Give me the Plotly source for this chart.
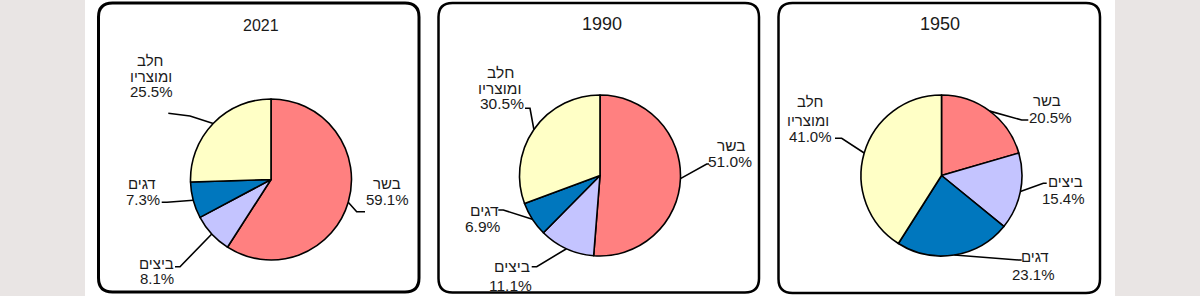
import math
import plotly.graph_objects as go

# ---------------- data ----------------
years = ["2021", "1990", "1950"]
categories = ["בשר", "ביצים", "דגים", "חלב ומוצריו"]
category_lines = [["בשר"], ["ביצים"], ["דגים"], ["חלב", "ומוצריו"]]
share_2021 = [59.1, 8.1, 7.3, 25.5]
share_1990 = [51.0, 11.1, 6.9, 30.5]
share_1950 = [20.5, 15.4, 23.1, 41.0]
colors = ["#FF8080", "#C4C4FF", "#0077BE", "#FFFFC6"]

# ---------------- layout settings (pixels) ----------------
W, H = 1200, 296
R = 80.5
FONT = "Liberation Sans, Arimo, Arial, DejaVu Sans, sans-serif"
TXT = "#1a1a1a"

panels = [
    dict(share=share_2021, center=(271, 179.5), box=(98.5, 3.0, 419.0, 292.0), bw=3.0,
         title=(260.5, 26), tsize=16, fsize=15,
         labels=[
             dict(elbow=(85.7, 32.2), end=(94, 32.2), text=[(116.3, 3.8), (116.3, 19.8)]),
             dict(elbow=(-91, 87.2), end=(-96, 87.2), text=[(-114.3, 84.0), (-114.3, 99.0)]),
             dict(elbow=(-104, 22.8), end=(-109.3, 22.8), text=[(-129.3, 3.8), (-127.7, 19.5)]),
             dict(elbow=(-81, -63.5), end=(-102.7, -66.2), text=[(-121, -119.5), (-120.5, -103.0), (-119.5, -87.5)]),
         ]),
    dict(share=share_1990, center=(600, 175.5), box=(438.5, 3.0, 759.0, 292.5), bw=2.5,
         title=(601.7, 24), tsize=18, fsize=15.5,
         labels=[
             dict(elbow=(106.7, -11.5), end=(109, -11.5), text=[(131.7, -30.5), (130, -13.8)]),
             dict(elbow=(-63.3, 91.2), end=(-68.3, 91.2), text=[(-88.3, 91.2), (-90, 109.5)]),
             dict(elbow=(-96.7, 34.5), end=(-101.7, 34.5), text=[(-116, 34.5), (-116.7, 51.2)]),
             dict(elbow=(-70, -67.2), end=(-75, -67.2), text=[(-100, -103.0), (-101, -87.5), (-98.3, -71.5)]),
         ]),
    dict(share=share_1950, center=(941.5, 175.5), box=(778.5, 3.0, 1100.0, 293.0), bw=2.5,
         title=(940, 24), tsize=18, fsize=15,
         labels=[
             dict(elbow=(80.2, -55.5), end=(86.8, -55.5), text=[(105.2, -75.5), (108.5, -58.2)]),
             dict(elbow=(101.8, 7.8), end=(105.2, 7.8), text=[(123.5, 6.2), (121.8, 22.8)]),
             dict(elbow=(76.8, 84.5), end=(80.2, 84.5), text=[(93.5, 81.2), (91.8, 98.5)]),
             dict(elbow=(-99.8, -37.2), end=(-106.5, -37.2), text=[(-131.5, -73.8), (-133.2, -55.5), (-131.5, -38.8)]),
         ]),
]


def px(x):
    return x / W


def py(y):
    return 1 - y / H


fig = go.Figure()
shapes = []
annotations = []

# grey page edges
for x0, x1 in [(0, 85), (1115, 1200)]:
    shapes.append(dict(type="rect", xref="paper", yref="paper", x0=px(x0), x1=px(x1),
                       y0=0, y1=1, fillcolor="#E9E5E4", line=dict(width=0), layer="below"))

for year, p in zip(years, panels):
    cx, cy = p["center"]
    vals = p["share"]
    fig.add_trace(go.Pie(
        values=vals, labels=categories, sort=False, direction="clockwise", rotation=0,
        marker=dict(colors=colors, line=dict(color="#000000", width=1.6)),
        textinfo="none", hoverinfo="label+percent", showlegend=False,
        domain=dict(x=[px(cx - R), px(cx + R)], y=[py(cy + R), py(cy - R)]),
    ))

    # rounded border
    x0, y0, x1, y1 = p["box"]
    rc = 14
    path = (f"M {px(x0 + rc)},{py(y0)} L {px(x1 - rc)},{py(y0)} "
            f"Q {px(x1)},{py(y0)} {px(x1)},{py(y0 + rc)} "
            f"L {px(x1)},{py(y1 - rc)} Q {px(x1)},{py(y1)} {px(x1 - rc)},{py(y1)} "
            f"L {px(x0 + rc)},{py(y1)} Q {px(x0)},{py(y1)} {px(x0)},{py(y1 - rc)} "
            f"L {px(x0)},{py(y0 + rc)} Q {px(x0)},{py(y0)} {px(x0 + rc)},{py(y0)} Z")
    shapes.append(dict(type="path", xref="paper", yref="paper", path=path,
                       line=dict(color="#000000", width=p["bw"]), layer="below"))

    # title
    tx, ty = p["title"]
    annotations.append(dict(x=px(tx), y=py(ty), xref="paper", yref="paper", text=year,
                            showarrow=False, xanchor="center", yanchor="middle",
                            font=dict(family=FONT, size=p["tsize"], color=TXT)))

    # labels and leader lines
    total = sum(vals)
    cum = 0.0
    for i, v in enumerate(vals):
        mid = (cum + v / 2) / total * 2 * math.pi
        cum += v
        ax = cx + R * math.sin(mid)
        ay = cy - R * math.cos(mid)
        lab = p["labels"][i]
        ex, ey = cx + lab["elbow"][0], cy + lab["elbow"][1]
        fx, fy = cx + lab["end"][0], cy + lab["end"][1]
        shapes.append(dict(type="path", xref="paper", yref="paper",
                           path=f"M {px(ax)},{py(ay)} L {px(ex)},{py(ey)} L {px(fx)},{py(fy)}",
                           line=dict(color="#000000", width=1.6)))
        lines = category_lines[i] + [f"{v:.1f}%"]
        for text, (dx, dy) in zip(lines, lab["text"]):
            annotations.append(dict(x=px(cx + dx), y=py(cy + dy), xref="paper", yref="paper",
                                    text=text, showarrow=False, xanchor="center", yanchor="middle",
                                    font=dict(family=FONT, size=p["fsize"], color=TXT)))

fig.update_layout(
    width=W, height=H, margin=dict(l=0, r=0, t=0, b=0),
    paper_bgcolor="#FFFFFF", plot_bgcolor="#FFFFFF",
    shapes=shapes, annotations=annotations, showlegend=False,
)

fig.write_html("out.html", config=dict(displayModeBar=False))
